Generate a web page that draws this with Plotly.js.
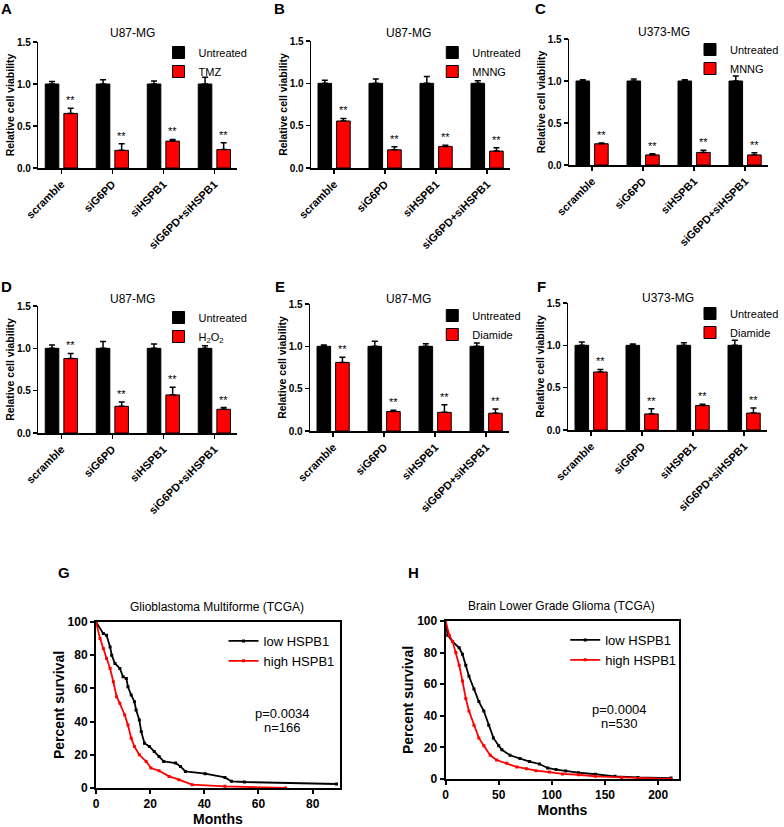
<!DOCTYPE html>
<html>
<head>
<meta charset="utf-8">
<script src="https://cdn.plot.ly/plotly-3.0.1.min.js"></script>
<style>
  html, body { margin: 0; padding: 0; background: #fff; overflow: hidden; }
  #fig { width: 784px; height: 827px; }
</style>
</head>
<body>
<div id="fig"></div>
<script>
// ---- data ----
var groups = ['scramble', 'siG6PD', 'siHSPB1', 'siG6PD+siHSPB1'];

// A: U87-MG, TMZ
var ctlA = [1.00, 1.00, 1.00, 1.00];
var ctlErrA = [0.03, 0.05, 0.035, 0.08];
var trtA = [0.65, 0.21, 0.32, 0.22];
var trtErrA = [0.06, 0.08, 0.02, 0.08];
// B: U87-MG, MNNG
var ctlB = [1.00, 1.00, 1.00, 1.00];
var ctlErrB = [0.035, 0.05, 0.08, 0.03];
var trtB = [0.555, 0.215, 0.255, 0.20];
var trtErrB = [0.03, 0.035, 0.015, 0.04];
// C: U373-MG, MNNG
var ctlC = [1.00, 1.00, 1.00, 1.00];
var ctlErrC = [0.015, 0.025, 0.015, 0.06];
var trtC = [0.253, 0.12, 0.15, 0.12];
var trtErrC = [0.01, 0.015, 0.025, 0.025];
// D: U87-MG, H2O2
var ctlD = [1.00, 1.00, 1.00, 1.00];
var ctlErrD = [0.04, 0.08, 0.05, 0.03];
var trtD = [0.88, 0.315, 0.45, 0.28];
var trtErrD = [0.06, 0.05, 0.09, 0.02];
// E: U87-MG, Diamide
var ctlE = [1.00, 1.00, 1.00, 1.00];
var ctlErrE = [0.015, 0.06, 0.03, 0.04];
var trtE = [0.81, 0.23, 0.22, 0.21];
var trtErrE = [0.06, 0.015, 0.09, 0.05];
// F: U373-MG, Diamide
var ctlF = [1.00, 1.00, 1.00, 1.00];
var ctlErrF = [0.04, 0.015, 0.03, 0.06];
var trtF = [0.685, 0.19, 0.29, 0.20];
var trtErrF = [0.03, 0.06, 0.015, 0.06];

// G: Glioblastoma Multiforme (TCGA)
var gLowMonths = [0, 2.7, 3.9, 5.2, 5.8, 7, 8.8, 10, 11.2, 11.8, 13, 14.2, 14.8, 16, 16.7, 17.9, 19.7, 21.5, 23.3, 25, 29.4, 31.2, 33, 40.3, 47.6, 50, 54.8, 88.8];
var gLowPct = [100, 93, 92, 85, 80, 75, 72, 67, 66, 61, 56, 52, 47, 41, 34, 27, 25, 22, 19, 16, 15, 13, 10, 8.6, 6.4, 4, 3.6, 2.4];
var gHighMonths = [0, 1.5, 2.7, 3.9, 5.2, 6.4, 7.6, 8.8, 10.6, 11.8, 13, 14.2, 16, 18.5, 20.3, 23.3, 27, 30.6, 35.5, 47.6, 70];
var gHighPct = [100, 90, 84, 78, 72, 64, 55, 51, 44, 38, 30, 25, 20, 16, 12, 10.4, 7, 5, 2, 1, 0];

// H: Brain Lower Grade Glioma (TCGA)
var hLowMonths = [0, 2, 6.6, 12.8, 15.9, 19, 22, 26.7, 31.3, 36, 40.6, 45, 50, 53, 60.6, 70, 79, 88.4, 96, 104, 113, 125, 141, 159.4, 181, 212];
var hLowPct = [100, 91, 87, 83, 79, 72, 65, 57, 49, 43, 34, 26, 21, 18.5, 15, 13, 11, 9.5, 7, 6, 5, 4, 3, 1.7, 1, 0.6];
var hHighMonths = [0, 3.5, 6.6, 9.7, 12.8, 15.9, 19, 22, 26.7, 31.3, 36, 42, 48, 57.6, 67, 76, 85, 97.7, 110, 125, 141, 165.6, 212];
var hHighPct = [100, 91, 87, 80, 72, 62, 51, 43, 34, 26, 21, 15, 12, 10, 7.6, 6.5, 5.3, 4.4, 3.2, 2.7, 1.7, 1, 0];

// ---- layout helpers ----
var W = 784, H = 827;
var FONT = 'Arial, "Liberation Sans", sans-serif';
function px(x) { return x / W; }
function py(y) { return 1 - y / H; }

var barPanels = [
  {letter: 'A', cell: 'U87-MG', drug: 'TMZ', ctl: ctlA, ctlErr: ctlErrA, trt: trtA, trtErr: trtErrA,
   box: [39, 241, 42, 168], title: [135, 33], leg: [161, 38], lab: [7, 8]},
  {letter: 'B', cell: 'U87-MG', drug: 'MNNG', ctl: ctlB, ctlErr: ctlErrB, trt: trtB, trtErr: trtErrB,
   box: [316, 518, 41, 168], title: [415, 33], leg: [439, 38], lab: [284, 9]},
  {letter: 'C', cell: 'U373-MG', drug: 'MNNG', ctl: ctlC, ctlErr: ctlErrC, trt: trtC, trtErr: trtErrC,
   box: [578, 780, 39, 165], title: [674, 32], leg: [701, 35], lab: [549, 9]},
  {letter: 'D', cell: 'U87-MG', drug: 'H<sub>2</sub>O<sub>2</sub>', ctl: ctlD, ctlErr: ctlErrD, trt: trtD, trtErr: trtErrD,
   box: [39, 241, 306, 433], title: [135, 299], leg: [161, 303], lab: [7, 286]},
  {letter: 'E', cell: 'U87-MG', drug: 'Diamide', ctl: ctlE, ctlErr: ctlErrE, trt: trtE, trtErr: trtErrE,
   box: [315, 517, 304, 431], title: [415, 299], leg: [439, 301], lab: [284, 286]},
  {letter: 'F', cell: 'U373-MG', drug: 'Diamide', ctl: ctlF, ctlErr: ctlErrF, trt: trtF, trtErr: trtErrF,
   box: [577, 779, 303, 430], title: [678, 298], leg: [701, 299], lab: [550, 286]}
];

var kmPanels = [
  {letter: 'G', name: 'Glioblastoma Multiforme (TCGA)', low: [gLowMonths, gLowPct], high: [gHighMonths, gHighPct],
   xmax: 90, dtick: 20, box: [97.5, 345, 622, 788], title: [220, 607], leg: [227, 626], lab: [65, 572],
   p: 'p=0.0034', n: 'n=166', txt: [69, 44.7, 36.3]},
  {letter: 'H', name: 'Brain Lower Grade Glioma (TCGA)', low: [hLowMonths, hLowPct], high: [hHighMonths, hHighPct],
   xmax: 220, dtick: 50, box: [452.5, 690, 621, 779], title: [570, 606], leg: [574, 625], lab: [420, 572],
   p: 'p=0.0004', n: 'n=530', txt: [164, 43.7, 35.3]}
];

var traces = [];
var annotations = [];
var layout = {
  width: W, height: H, autosize: false,
  margin: {l: 0, r: 0, t: 0, b: 0},
  paper_bgcolor: '#fff', plot_bgcolor: '#fff',
  font: {family: FONT, color: '#000'},
  barmode: 'group', bargap: 0.27, bargroupgap: 0.27,
  showlegend: true
};

function legendName(n) { return n === 1 ? 'legend' : 'legend' + n; }

function addLabel(text, pos, size, bold) {
  annotations.push({
    text: text, xref: 'paper', yref: 'paper', x: px(pos[0]), y: py(pos[1]),
    xanchor: 'center', yanchor: 'middle', showarrow: false,
    font: {family: FONT, size: size, color: '#000', weight: bold ? 'bold' : 'normal'}
  });
}

barPanels.forEach(function(p, i) {
  var n = i + 1;
  var zeros = p.ctl.map(function() { return 0; });
  traces.push({
    type: 'bar', x: groups, y: p.ctl, name: 'Untreated',
    xaxis: 'x' + n, yaxis: 'y' + n, legend: legendName(n),
    marker: {color: '#000000', line: {color: '#000', width: 1}},
    error_y: {type: 'data', array: p.ctlErr, arrayminus: zeros, symmetric: false,
              color: '#000', thickness: 1.5, width: 3}
  });
  traces.push({
    type: 'bar', x: groups, y: p.trt, name: p.drug,
    xaxis: 'x' + n, yaxis: 'y' + n, legend: legendName(n),
    marker: {color: '#ff0000', line: {color: '#000', width: 1}},
    error_y: {type: 'data', array: p.trtErr, arrayminus: zeros, symmetric: false,
              color: '#000', thickness: 1.5, width: 3}
  });

  layout['xaxis' + n] = {
    domain: [px(p.box[0]), px(p.box[1])], anchor: 'y' + n,
    type: 'category', range: [-0.45, 3.45],
    showline: true, linewidth: 1.5, linecolor: '#000',
    ticks: 'outside', ticklen: 4, tickwidth: 1.5, tickcolor: '#000',
    tickangle: -45, tickfont: {family: FONT, size: 11, color: '#000', weight: 'bold'},
    showgrid: false, zeroline: false
  };
  layout['yaxis' + n] = {
    domain: [py(p.box[3]), py(p.box[2])], anchor: 'x' + n,
    range: [0, 1.5], dtick: 0.5, tickformat: '.1f',
    showline: true, linewidth: 1.5, linecolor: '#000',
    ticks: 'outside', ticklen: 4, tickwidth: 1.5, tickcolor: '#000',
    tickfont: {family: FONT, size: 10, color: '#000', weight: 'bold'},
    showgrid: false, zeroline: false,
    title: {text: 'Relative cell viability', standoff: 0,
            font: {family: FONT, size: 10.5, color: '#000', weight: 'bold'}}
  };
  layout[legendName(n)] = {
    x: px(p.leg[0]), y: py(p.leg[1]), xanchor: 'left', yanchor: 'top',
    bgcolor: 'rgba(0,0,0,0)', borderwidth: 0, tracegroupgap: 0,
    font: {family: FONT, size: 11, color: '#000'}
  };

  // significance marks above the treated bars (red bar sits right of group centre)
  p.trt.forEach(function(v, k) {
    annotations.push({
      text: '**', xref: 'x' + n, yref: 'y' + n, x: k + 0.1825, y: v + p.trtErr[k],
      xanchor: 'center', yanchor: 'bottom', showarrow: false, yshift: 0,
      font: {family: FONT, size: 11, color: '#000'}
    });
  });

  addLabel(p.cell, p.title, 12, false);
  addLabel(p.letter, p.lab, 15, true);
});

kmPanels.forEach(function(p, i) {
  var n = barPanels.length + i + 1;
  traces.push({
    type: 'scatter', mode: 'lines+markers', x: p.low[0], y: p.low[1], name: 'low HSPB1',
    xaxis: 'x' + n, yaxis: 'y' + n, legend: legendName(n),
    line: {color: '#000', width: 1.8}, marker: {color: '#000', size: 3, symbol: 'square'}
  });
  traces.push({
    type: 'scatter', mode: 'lines+markers', x: p.high[0], y: p.high[1], name: 'high HSPB1',
    xaxis: 'x' + n, yaxis: 'y' + n, legend: legendName(n),
    line: {color: '#ff0000', width: 1.8}, marker: {color: '#ff0000', size: 3, symbol: 'square'}
  });

  layout['xaxis' + n] = {
    domain: [px(p.box[0]), px(p.box[1])], anchor: 'y' + n,
    range: [0, p.xmax], dtick: p.dtick,
    showline: true, mirror: true, linewidth: 2, linecolor: '#000',
    ticks: 'outside', ticklen: 4, tickwidth: 2, tickcolor: '#000',
    tickfont: {family: FONT, size: 12, color: '#000', weight: 'bold'},
    showgrid: false, zeroline: false,
    title: {text: 'Months', standoff: 4,
            font: {family: FONT, size: 14, color: '#000', weight: 'bold'}}
  };
  layout['yaxis' + n] = {
    domain: [py(p.box[3]), py(p.box[2])], anchor: 'x' + n,
    range: [0, 100], dtick: 20,
    showline: true, mirror: true, linewidth: 2, linecolor: '#000',
    ticks: 'outside', ticklen: 4, tickwidth: 2, tickcolor: '#000',
    tickfont: {family: FONT, size: 12, color: '#000', weight: 'bold'},
    showgrid: false, zeroline: false,
    title: {text: 'Percent survival', standoff: 0,
            font: {family: FONT, size: 14, color: '#000', weight: 'bold'}}
  };
  layout[legendName(n)] = {
    x: px(p.leg[0]), y: py(p.leg[1]), xanchor: 'left', yanchor: 'top',
    bgcolor: 'rgba(0,0,0,0)', borderwidth: 0, tracegroupgap: 0,
    font: {family: FONT, size: 13, color: '#000'}
  };

  [p.p, p.n].forEach(function(t, k) {
    annotations.push({
      text: t, xref: 'x' + n, yref: 'y' + n, x: p.txt[0], y: p.txt[1 + k],
      xanchor: 'center', yanchor: 'middle', showarrow: false,
      font: {family: FONT, size: 13, color: '#000'}
    });
  });

  addLabel(p.name, p.title, 12, false);
  addLabel(p.letter, p.lab, 15, true);
});

layout.annotations = annotations;

Plotly.newPlot('fig', traces, layout, {displayModeBar: false, staticPlot: true});
</script>
</body>
</html>
